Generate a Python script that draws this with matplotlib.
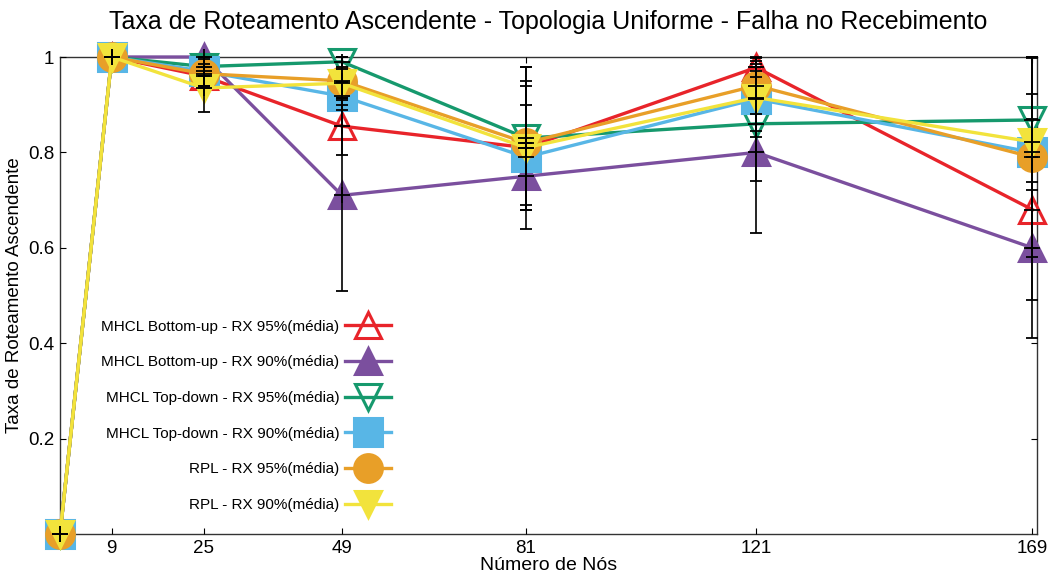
import matplotlib
matplotlib.use("Agg")
import matplotlib.pyplot as plt
from matplotlib.ticker import FixedLocator, FixedFormatter

plt.rcParams['font.family'] = ['Liberation Sans', 'DejaVu Sans']

nodes = [0, 9, 25, 49, 81, 121, 169]

labels = [
    "MHCL Bottom-up - RX 95%(média)",
    "MHCL Bottom-up - RX 90%(média)",
    "MHCL Top-down - RX 95%(média)",
    "MHCL Top-down - RX 90%(média)",
    "RPL - RX 95%(média)",
    "RPL - RX 90%(média)",
]

bu95 = [0.0, 1.0, 0.96, 0.855, 0.81, 0.978, 0.68]
bu90 = [0.0, 1.0, 1.0, 0.71, 0.75, 0.80, 0.60]
td95 = [0.0, 1.0, 0.98, 0.99, 0.83, 0.86, 0.868]
td90 = [0.0, 1.0, 0.97, 0.918, 0.79, 0.912, 0.80]
rpl95 = [0.0, 1.0, 0.965, 0.95, 0.82, 0.94, 0.79]
rpl90 = [0.0, 1.0, 0.935, 0.945, 0.81, 0.915, 0.822]

bu95_err = [0.0, 0.0, 0.02, 0.06, 0.17, 0.02, 0.19]
bu90_err = [0.0, 0.0, 0.0, 0.20, 0.07, 0.17, 0.19]
td95_err = [0.0, 0.0, 0.02, 0.01, 0.15, 0.12, 0.13]
td90_err = [0.0, 0.0, 0.03, 0.03, 0.11, 0.08, 0.20]
rpl95_err = [0.0, 0.0, 0.03, 0.05, 0.13, 0.06, 0.21]
rpl90_err = [0.0, 0.0, 0.05, 0.03, 0.13, 0.07, 0.10]

xticks = [9, 25, 49, 81, 121, 169]
yticks = [0.2, 0.4, 0.6, 0.8, 1.0]
ytick_labels = ["0.2", "0.4", "0.6", "0.8", "1"]

series = [
    (bu95, bu95_err, "#E8242A", "^", True),
    (bu90, bu90_err, "#7B4F9E", "^", False),
    (td95, td95_err, "#16996D", "v", True),
    (td90, td90_err, "#58B6E6", "s", False),
    (rpl95, rpl95_err, "#E89F28", "o", False),
    (rpl90, rpl90_err, "#F2E33C", "v", False),
]

fig = plt.figure(figsize=(10.58, 5.79), dpi=100)
ax = fig.add_axes([60 / 1058, 45 / 579, 977 / 1058, 477 / 579])

handles = []
for (vals, errs, color, marker, hollow), lab in zip(series, labels):
    ms = 19 if marker in ("^", "v") else 20
    face = "none" if hollow else color
    h, = ax.plot(nodes, vals, color=color, lw=2.4, marker=marker,
                 markersize=ms, markerfacecolor=face,
                 markeredgecolor=color, markeredgewidth=2.2,
                 label=lab, zorder=3, clip_on=False)
    handles.append(h)

for vals, errs, color, marker, hollow in series:
    eb = ax.errorbar(nodes, vals, yerr=errs, fmt="+", color="black",
                     ecolor="black", elinewidth=1.2, capsize=4, capthick=1.2,
                     markersize=12, markeredgewidth=1.3, zorder=4)
    for art in eb.get_children():
        art.set_clip_on(False)

ax.set_xlim(0, 169.8)
ax.set_ylim(0, 1.0)
ax.xaxis.set_major_locator(FixedLocator(xticks))
ax.yaxis.set_major_locator(FixedLocator(yticks))
ax.yaxis.set_major_formatter(FixedFormatter(ytick_labels))
ax.tick_params(direction="in", length=4, width=0.8, top=True, right=True,
               labelsize=13.5, pad=4)
for sp in ax.spines.values():
    sp.set_linewidth(1.0)
    sp.set_color("#333333")
    sp.set_zorder(1)

ax.set_title("Taxa de Roteamento Ascendente - Topologia Uniforme - Falha no Recebimento",
             fontsize=18, pad=20)
ax.set_xlabel("Número de Nós", fontsize=14, labelpad=0)
ax.set_ylabel("Taxa de Roteamento Ascendente", fontsize=13.5, labelpad=4)

ax.legend(handles=handles, labels=labels, loc="upper right",
          bbox_to_anchor=(402 / 1058, 1 - 309 / 579),
          bbox_transform=fig.transFigure, frameon=False, markerfirst=False,
          fontsize=11, handlelength=3.0, labelspacing=1.42,
          handletextpad=0.4, borderpad=0.2)

fig.savefig("out.png", dpi=100)
